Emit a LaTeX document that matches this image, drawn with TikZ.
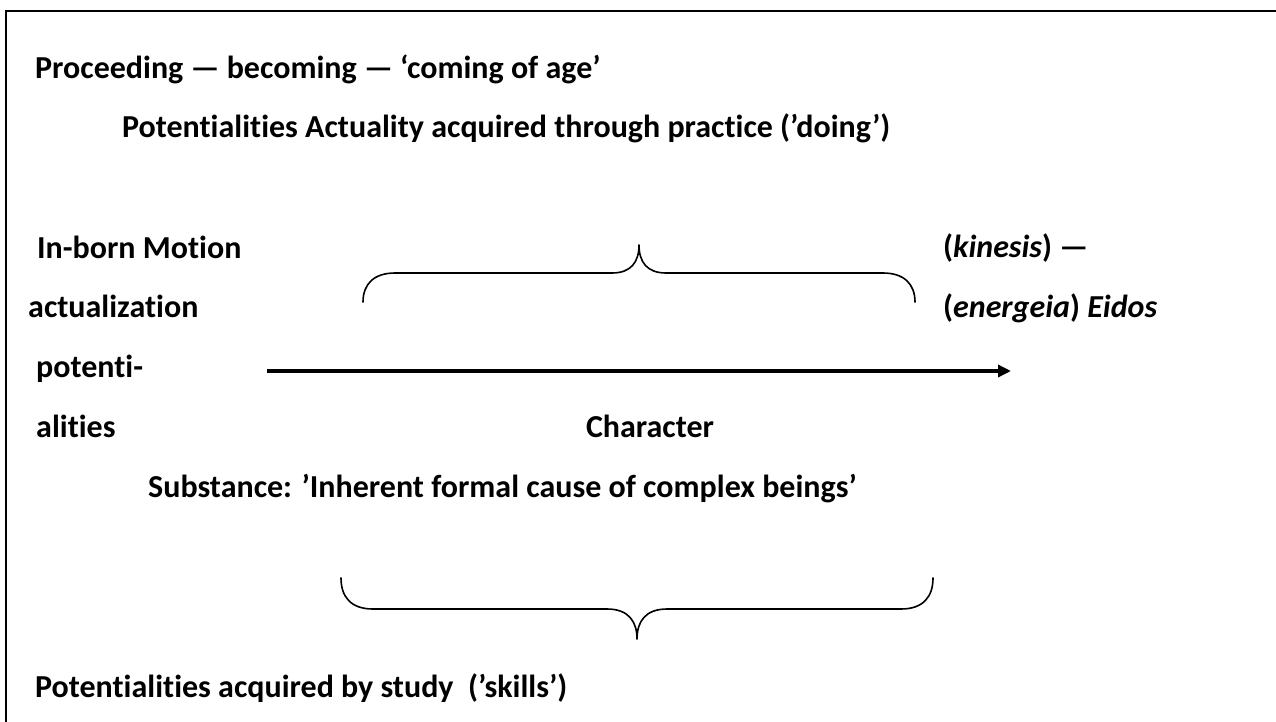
\documentclass[tikz,border=0pt]{standalone}
\usepackage{fontspec}
\setmainfont[Ligatures=NoCommon]{Carlito}
\usetikzlibrary{arrows.meta}
\tikzset{
  lbl/.style={anchor=base west, inner sep=0pt, font=\fontsize{32}{38}\selectfont\bfseries},
  brace/.style={line width=1.6pt, line cap=round, line join=round},
  frame/.style={line width=2.7pt},
  flow/.style={line width=4.5pt, -{Triangle[length=13pt,width=12pt]}}
}
\begin{document}
\begin{tikzpicture}[x=1pt, y=-1pt]
  \useasboundingbox (0,0) rectangle (1276,722);
  \clip (0,0) rectangle (1276,722);

  % open frame: left and top edges only within the page
  \draw[frame] (6,740) -- (6,11) -- (1290,11);

  % headings
  \node[lbl] (proc) at (35,79) {Proceeding — becoming — ‘coming of age’};
  \node[lbl] (pot)  at (122,138) {Potentialities Actuality acquired through practice (’doing’)};

  % left column
  \node[lbl] (inborn) at (37,258) {In-born Motion};
  \node[lbl] (actu)   at (28,317) {actualization};
  \node[lbl] (poti)   at (36,377) {potenti-};
  \node[lbl] (alit)   at (36,437) {alities};

  % right column
  \node[lbl] (kin) at (943,257) {(\textit{kinesis}) —};
  \node[lbl] (ene) at (943,317) {(\textit{energeia}) \textit{Eidos}};

  % centre labels
  \node[lbl, anchor=base] (char) at (650,437) {Character};
  \node[lbl] (subst) at (148,497) {Substance: ’Inherent formal cause of complex beings’};

  % bottom line
  \node[lbl] (study) at (35,697) {Potentialities acquired by study\ \ (’skills’)};

  % upper brace, opening downwards
  \draw[brace] (363,302) .. controls (363,284) and (374,273) .. (395,273)
    -- (612,273) .. controls (631,273) and (639,262) .. (639,245)
    .. controls (639,262) and (647,273) .. (666,273)
    -- (883,273) .. controls (904,273) and (915,284) .. (915,302);

  % main arrow
  \coordinate (aS) at (267,371);
  \coordinate (aE) at (1011,371);
  \draw[flow] (aS) -- (aE);

  % lower brace, opening upwards
  \draw[brace] (341,578) .. controls (341,597) and (351,609) .. (373,609)
    -- (607,609) .. controls (629,609) and (637,622) .. (637,639)
    .. controls (637,622) and (645,609) .. (667,609)
    -- (901,609) .. controls (923,609) and (933,597) .. (933,578);
\end{tikzpicture}
\end{document}
